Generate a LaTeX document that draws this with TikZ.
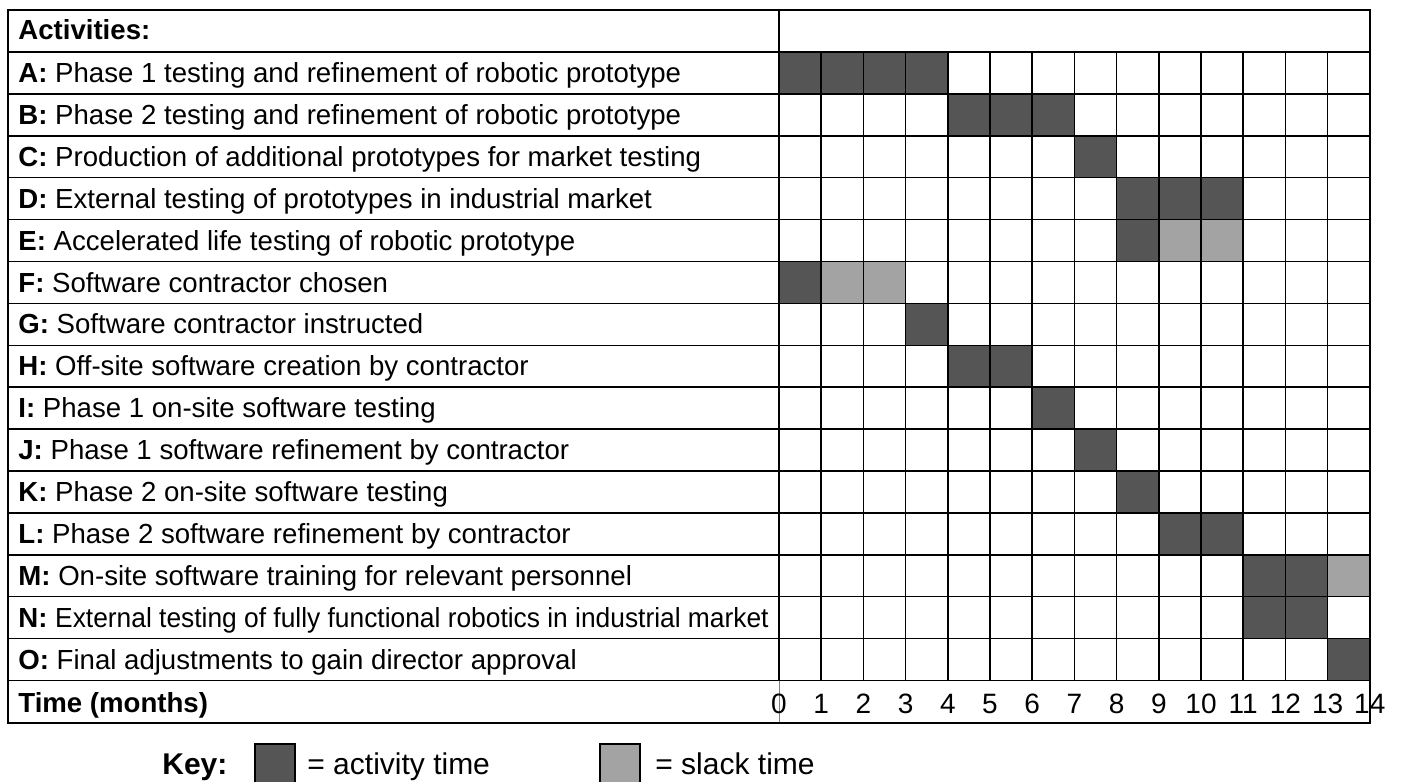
\documentclass[tikz,border=0pt]{standalone}
\usepackage{fontspec}
\setmainfont{Liberation Sans}
\usetikzlibrary{positioning}
\definecolor{actgrey}{RGB}{85,85,85}
\definecolor{slackgrey}{RGB}{163,163,163}

\begin{document}
\begin{tikzpicture}[x=0.5pt, y=-0.5pt,
    rowlabel/.style={anchor=base west, inner sep=0pt, font=\fontsize{13.8}{16}\selectfont},
    tick/.style={anchor=base, inner sep=0pt, font=\fontsize{14}{16}\selectfont},
    keytext/.style={anchor=base west, inner sep=0pt, font=\fontsize{15}{18}\selectfont},
    act/.style={fill=actgrey},
    slack/.style={fill=slackgrey},
    grid/.style={line width=0.75pt},
    frame/.style={line width=1pt},
    swatch/.style={draw, line width=0.75pt, minimum width=20pt, minimum height=23pt, inner sep=0pt}]
  \useasboundingbox (0,0) rectangle (1405,782);

  % bars
  \foreach \r/\a/\b in {1/0/4, 2/4/7, 3/7/8, 4/8/11, 5/8/9, 6/0/1, 7/3/4, 8/4/6,
                        9/6/7, 10/7/8, 11/8/9, 12/9/11, 13/11/13, 14/11/13, 15/13/14}
    \fill[act] ({779+42.2*\a},{52+41.9*(\r-1)}) rectangle ({779+42.2*\b},{52+41.9*\r});
  \foreach \r/\a/\b in {5/9/11, 6/1/3, 13/13/14}
    \fill[slack] ({779+42.2*\a},{52+41.9*(\r-1)}) rectangle ({779+42.2*\b},{52+41.9*\r});

  % grid
  \foreach \i in {0,...,15}
    \draw[grid] (8,{52+41.9*\i}) -- (1370,{52+41.9*\i});
  \foreach \c in {1,...,13}
    \draw[grid] ({779+42.2*\c},52) -- ({779+42.2*\c},680.5);
  \draw[grid] (779,10) -- (779,680.5);
  \draw[gray, line width=0.5pt] (779,680.5) -- (779,723);
  \draw[frame] (8,10) rectangle (1370,723);

  % labels
  \node[rowlabel] (head) at (18,39) {\textbf{Activities:}};
  \foreach \lab/\txt [count=\i] in {
      A/Phase 1 testing and refinement of robotic prototype,
      B/Phase 2 testing and refinement of robotic prototype,
      C/Production of additional prototypes for market testing,
      D/External testing of prototypes in industrial market,
      E/Accelerated life testing of robotic prototype,
      F/Software contractor chosen,
      G/Software contractor instructed,
      H/Off-site software creation by contractor,
      I/Phase 1 on-site software testing,
      J/Phase 1 software refinement by contractor,
      K/Phase 2 on-site software testing,
      L/Phase 2 software refinement by contractor,
      M/On-site software training for relevant personnel,
      N/\scalebox{0.955}[1]{External testing of fully functional robotics in industrial market},
      O/Final adjustments to gain director approval}
    \node[rowlabel] (row\lab) at (18,{52+41.9*(\i-1)+30.5}) {\textbf{\lab:} \txt};
  \node[rowlabel] (timelabel) at (18,712) {\textbf{Time (months)}};
  \foreach \n in {0,...,14}
    \node[tick] (t\n) at ({779+42.2*\n},713) {\n};

  % key
  \node[keytext] (key) at (162,774) {\textbf{Key:}};
  \node[swatch, fill=actgrey, anchor=north west] (swatchact) at (254,743) {};
  \node[keytext] (keyact) at (307,774) {= activity time};
  \node[swatch, fill=slackgrey, anchor=north west] (swatchslack) at (599,743) {};
  \node[keytext] (keyslack) at (655,774) {= slack time};
\end{tikzpicture}
\end{document}
